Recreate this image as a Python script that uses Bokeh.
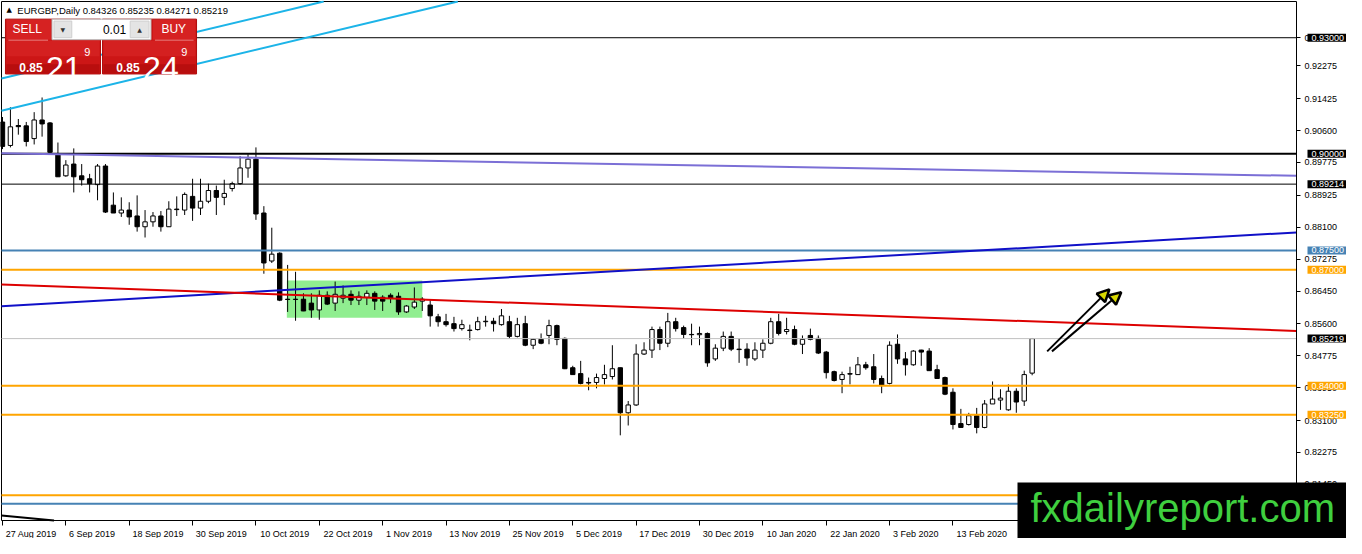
from bokeh.plotting import figure
from bokeh.models import (Range1d, FixedTicker, PrintfTickFormatter, Label, Arrow,
                          NormalHead, ColumnDataSource, LinearAxis)
from bokeh.core.properties import value
from bokeh.embed import file_html
from bokeh.resources import INLINE

# ---------------- data (EURGBP daily) ----------------
opens = [0.9082, 0.90214, 0.9073, 0.90721, 0.90392, 0.90873, 0.90797, 0.89986, 0.89429, 0.89733,
         0.89429, 0.89353, 0.89201, 0.89682, 0.88670, 0.88467, 0.88543, 0.88391, 0.88112, 0.88239,
         0.88391, 0.88112, 0.88568, 0.88543, 0.88897, 0.88594, 0.88771, 0.89049, 0.88872, 0.89100,
         0.89227, 0.89632, 0.89860, 0.88467, 0.87226, 0.87428, 0.86238, 0.86230, 0.86238, 0.86137,
         0.85960, 0.86340, 0.86137, 0.86264, 0.86365, 0.86213, 0.86289, 0.86390, 0.86289, 0.86340,
         0.86314, 0.85909, 0.86036, 0.86188, 0.86087, 0.85783, 0.85656, 0.85605, 0.85478, 0.85428,
         0.85453, 0.85656, 0.85668, 0.85580, 0.85656, 0.85276, 0.85605, 0.85048, 0.85200, 0.85301,
         0.85555, 0.85225, 0.84466, 0.84314, 0.84085, 0.84085, 0.84187, 0.84238, 0.84466, 0.83301,
         0.83503, 0.84820, 0.84922, 0.85453, 0.85099, 0.85656, 0.85504, 0.85327, 0.85320, 0.85352,
         0.84694, 0.84972, 0.85276, 0.84947, 0.84947, 0.84694, 0.84922, 0.85099, 0.85656, 0.85402,
         0.85453, 0.85073, 0.85301, 0.85225, 0.84871, 0.84364, 0.84162, 0.84314, 0.84288, 0.84542,
         0.84491, 0.84187, 0.84060, 0.85073, 0.84694, 0.84542, 0.84922, 0.84896, 0.84415, 0.84212,
         0.83832, 0.83022, 0.82997, 0.83225, 0.82921, 0.83529, 0.83630, 0.83377, 0.83858, 0.83605,
         0.84326]
highs = [0.9095, 0.91202, 0.90898, 0.90822, 0.91075, 0.91455, 0.9082, 0.90290, 0.89834, 0.90138,
         0.89733, 0.89480, 0.89733, 0.89733, 0.88999, 0.88872, 0.88745, 0.88923, 0.88543, 0.88492,
         0.88518, 0.88771, 0.88897, 0.88999, 0.89353, 0.89353, 0.89227, 0.89176, 0.89328, 0.89277,
         0.89936, 0.89986, 0.90164, 0.88644, 0.88087, 0.8745, 0.87125, 0.86947, 0.86390, 0.86390,
         0.86466, 0.86441, 0.86694, 0.86593, 0.86466, 0.86441, 0.86466, 0.86441, 0.86340, 0.86390,
         0.86415, 0.86087, 0.86542, 0.86289, 0.86213, 0.85859, 0.85859, 0.85782, 0.85707, 0.85580,
         0.85783, 0.85808, 0.85757, 0.85985, 0.85808, 0.85757, 0.85808, 0.85225, 0.85352, 0.85707,
         0.85580, 0.8525, 0.84516, 0.84643, 0.84212, 0.84314, 0.84542, 0.85048, 0.8447, 0.83605,
         0.85073, 0.85124, 0.85529, 0.85529, 0.85884, 0.85757, 0.85555, 0.85605, 0.85529, 0.85377,
         0.85073, 0.85402, 0.85402, 0.85225, 0.85099, 0.85124, 0.85200, 0.85757, 0.85859, 0.85757,
         0.85555, 0.85301, 0.85478, 0.85301, 0.8490, 0.8439, 0.84364, 0.84491, 0.84744, 0.84618,
         0.84820, 0.84263, 0.85149, 0.85327, 0.84871, 0.84922, 0.84930, 0.84972, 0.84542, 0.84237,
         0.83934, 0.83402, 0.83300, 0.83427, 0.83630, 0.84111, 0.83909, 0.84035, 0.83934, 0.84390,
         0.85235]
lows = [0.9012, 0.90164, 0.90493, 0.90189, 0.90240, 0.90442, 0.9001, 0.8940, 0.89404, 0.88999,
        0.89176, 0.88999, 0.88796, 0.88467, 0.88467, 0.88366, 0.88163, 0.87986, 0.87834, 0.88112,
        0.87986, 0.88112, 0.88391, 0.88416, 0.88264, 0.88416, 0.88720, 0.88416, 0.88670, 0.89024,
        0.8920, 0.89379, 0.88290, 0.86897, 0.87175, 0.86188, 0.85909, 0.85681, 0.8593, 0.85757,
        0.85707, 0.86087, 0.85934, 0.86137, 0.86087, 0.86087, 0.86087, 0.85960, 0.85934, 0.86137,
        0.85833, 0.85883, 0.85985, 0.85934, 0.85529, 0.85529, 0.85529, 0.85402, 0.85428, 0.85175,
        0.85428, 0.85529, 0.85402, 0.85555, 0.85225, 0.85250, 0.85023, 0.84947, 0.85073, 0.85073,
        0.85048, 0.8443, 0.84288, 0.84035, 0.83883, 0.83934, 0.84035, 0.84162, 0.82718, 0.82972,
        0.83478, 0.84795, 0.84719, 0.84922, 0.84998, 0.85402, 0.85225, 0.85048, 0.85048, 0.84491,
        0.84643, 0.84896, 0.84896, 0.84592, 0.84516, 0.84643, 0.84719, 0.85073, 0.85301, 0.85327,
        0.85048, 0.84820, 0.85175, 0.84820, 0.84187, 0.84111, 0.83807, 0.84035, 0.84288, 0.84415,
        0.84060, 0.83807, 0.84035, 0.84567, 0.84263, 0.84516, 0.84516, 0.84390, 0.84187, 0.83757,
        0.82870, 0.82921, 0.82972, 0.82769, 0.82900, 0.83529, 0.83377, 0.83352, 0.83301, 0.83478,
        0.84271]
closes = [0.9019, 0.90696, 0.9070, 0.90316, 0.90873, 0.90771, 0.90037, 0.89404, 0.89708, 0.89404,
          0.89328, 0.89227, 0.89682, 0.88492, 0.88467, 0.88543, 0.88366, 0.88112, 0.88239, 0.88391,
          0.88112, 0.88568, 0.88555, 0.88948, 0.88594, 0.88771, 0.89049, 0.88872, 0.88973, 0.89227,
          0.89632, 0.89860, 0.88442, 0.87175, 0.87403, 0.86213, 0.86230, 0.86238, 0.85934, 0.85960,
          0.86340, 0.86112, 0.86365, 0.86340, 0.86213, 0.86314, 0.86390, 0.86188, 0.86188, 0.86264,
          0.85909, 0.86061, 0.86162, 0.86238, 0.85808, 0.85656, 0.85580, 0.85478, 0.85580, 0.85440,
          0.85656, 0.85668, 0.85605, 0.85808, 0.85276, 0.85580, 0.85048, 0.85200, 0.85099, 0.85555,
          0.85200, 0.84440, 0.84288, 0.84060, 0.84070, 0.84212, 0.84288, 0.84440, 0.83301, 0.83503,
          0.84820, 0.84922, 0.85453, 0.85099, 0.85656, 0.85478, 0.85327, 0.85320, 0.85352, 0.84592,
          0.84972, 0.85276, 0.84947, 0.84935, 0.84719, 0.84922, 0.85099, 0.85656, 0.85352, 0.85453,
          0.85073, 0.85200, 0.85200, 0.84846, 0.84339, 0.84136, 0.84288, 0.84300, 0.84542, 0.84466,
          0.84162, 0.84010, 0.85048, 0.84694, 0.84542, 0.84896, 0.84871, 0.84390, 0.84187, 0.83782,
          0.82997, 0.82921, 0.83225, 0.82921, 0.83529, 0.83655, 0.83681, 0.83858, 0.83579, 0.84288,
          0.85219]

date_bars = [0, 8, 16, 24, 32, 40, 48, 56, 64, 72, 80, 88, 96, 104, 112, 120]
date_labels = ["27 Aug 2019", "6 Sep 2019", "18 Sep 2019", "30 Sep 2019", "10 Oct 2019",
               "22 Oct 2019", "1 Nov 2019", "13 Nov 2019", "25 Nov 2019", "5 Dec 2019",
               "17 Dec 2019", "30 Dec 2019", "10 Jan 2020", "22 Jan 2020", "3 Feb 2020",
               "13 Feb 2020"]
price_ticks = [0.93, 0.92275, 0.91425, 0.906, 0.89775, 0.88925, 0.881, 0.87275, 0.8645,
               0.856, 0.84775, 0.8395, 0.831, 0.82275, 0.8145]

# horizontal levels
black_thin_levels = [0.93, 0.89214]
black_thick_levels = [0.90]
orange_levels = [0.87, 0.84, 0.8325, 0.8117]
steel_levels = [0.875, 0.8095]
bid_price = 0.85219

# trend lines: two anchor points (bar, price) each
cyan1 = (0, 0.9195, 50, 0.9440)
cyan2 = (0, 0.9112, 60, 0.9406)
purple = (0, 0.9001, 163, 0.8943)
blue = (0, 0.8606, 163, 0.8796)
red = (0, 0.8662, 163, 0.8542)
black_tl = (0, 0.80642, 8, 0.80486)

# consolidation box
box_bars = [35.9, 53.0]
box_prices = [0.8576, 0.8672]

# arrows (bar, price) tail -> tip
arrow1 = (131.9, 0.84889, 139.75, 0.86492)
arrow2 = (132.5, 0.84889, 141.25, 0.86416)

# right-axis price tags
tags = [(0.93, "black"), (0.90, "black"), (0.89214, "black"), (0.875, "#4682b4"),
        (0.87, "#ffa500"), (0.85219, "black"), (0.84, "#ffa500"), (0.8325, "#ffa500")]

# ---------------- geometry ----------------
W, H = 1346, 538
CL, CR, CT, CB = 1, 1296, 1, 520          # chart area inside the canvas (px)
X0, X1 = -0.125, 163.375                  # chart extent in bars
Y0, Y1 = 0.805151, 0.939370               # chart extent in price
dx = (X1 - X0) / (CR - CL)
dy = (Y1 - Y0) / (CB - CT)
XS, YT = X0 - CL * dx, Y1 + CT * dy        # data value at canvas left / top
PXB = 8.0        # reference px per bar
PYU = 3948.7     # reference px per price unit


def rx(px):      # reference chart px -> bar
    return X0 + (px - 2) / PXB


def ry(py):      # reference chart px -> price
    return 0.93 - (py - 39) / PYU


def cx(px):      # canvas px -> bar
    return XS + px * dx


def cy(py):      # canvas px -> price
    return YT - py * dy


def clipped(line):
    xa, ya, xb, yb = line
    t0, t1 = -1e9, 1e9
    ddx, ddy = xb - xa, yb - ya
    for pv, qv in ((-ddx, xa - X0), (ddx, X1 - xa), (-ddy, ya - Y0), (ddy, Y1 - ya)):
        if pv == 0:
            continue
        t = qv / pv
        if pv < 0:
            t0 = max(t0, t)
        else:
            t1 = min(t1, t)
    return [xa + t0 * ddx, xa + t1 * ddx], [ya + t0 * ddy, ya + t1 * ddy]


FONT = "Liberation Sans"

p = figure(width=W, height=H,
           x_range=Range1d(XS, X1 + (W - CR) * dx),
           y_range=Range1d(Y0 - (H - CB) * dy, YT),
           x_axis_location=None, y_axis_location=None,
           output_backend="svg", toolbar_location=None,
           min_border=0, min_border_left=0, min_border_right=0,
           min_border_top=0, min_border_bottom=0,
           background_fill_color="white", border_fill_color="white",
           outline_line_color=None)
p.grid.visible = False

# bottom (date) axis fixed at the chart's lower edge
date_ticks = [b + round((3 + 2.35 * len(l)) / PXB * 16) / 16 for b, l in zip(date_bars, date_labels)]
xax = LinearAxis(fixed_location=Y0, bounds=(X0, X1),
                 ticker=FixedTicker(ticks=date_ticks, minor_ticks=date_bars))
xax.major_label_overrides = {t: l for t, l in zip(date_ticks, date_labels)}
xax.major_tick_line_color = None
xax.major_tick_out = 1
xax.major_tick_in = 0
xax.minor_tick_out = 5
xax.minor_tick_in = 0
xax.minor_tick_line_color = "black"
xax.major_label_standoff = 3
xax.axis_line_color = "black"
xax.major_label_text_font = FONT
xax.major_label_text_font_size = "9px"
xax.major_label_text_color = "black"
p.add_layout(xax, "below")

# right (price) axis fixed at the chart's right edge
yax = LinearAxis(fixed_location=X1, bounds=(Y0 - 30 * dy, Y1),
                 ticker=FixedTicker(ticks=price_ticks),
                 formatter=PrintfTickFormatter(format="%.5f"))
yax.major_tick_out = 4
yax.major_tick_in = 0
yax.minor_tick_line_color = None
yax.major_label_standoff = 4
yax.axis_line_color = "black"
yax.major_label_text_font = FONT
yax.major_label_text_font_size = "9px"
yax.major_label_text_color = "black"
p.add_layout(yax, "right")

# top and left chart borders
p.segment(x0=[X0, X0], y0=[Y0, Y1], x1=[X0, X1], y1=[Y1, Y1], line_color="black", line_width=1)

# consolidation box (background)
p.quad(left=[box_bars[0]], right=[box_bars[1]], bottom=[box_prices[0]], top=[box_prices[1]],
       fill_color="#90ee90", line_color=None)

# candles
n = len(opens)
xs = list(range(n))
tops = [max(o, c) for o, c in zip(opens, closes)]
bots = [min(o, c) for o, c in zip(opens, closes)]
fills = ["white" if c >= o else "black" for o, c in zip(opens, closes)]
src = ColumnDataSource(dict(x=xs, h=highs, l=lows, t=tops, b=bots, f=fills))
p.segment(x0="x", x1="x", y0="l", y1="h", source=src, line_color="black", line_width=1)
p.vbar(x="x", width=0.55, top="t", bottom="b", fill_color="f", line_color="black",
       line_width=1, source=src)


# horizontal levels
def hlines(levels, color, width):
    p.segment(x0=[X0] * len(levels), x1=[X1] * len(levels), y0=levels, y1=levels,
              line_color=color, line_width=width)


hlines(black_thin_levels, "black", 1)
hlines(black_thick_levels, "black", 2)
hlines(orange_levels, "#ffa500", 2)
hlines(steel_levels, "#4682b4", 2)
hlines([bid_price], "#c0c0c0", 1)

# trend lines
for ln, col in ((cyan1, "#1cb4e8"), (cyan2, "#1cb4e8"), (purple, "#7b6fd6"),
                (blue, "#1010c8"), (red, "#dd0000"), (black_tl, "black")):
    lx, ly = clipped(ln)
    p.line(lx, ly, line_color=col, line_width=2)

# arrows
for a in (arrow1, arrow2):
    p.add_layout(Arrow(end=NormalHead(size=12, fill_color="#d8d800", line_color="black",
                                      line_width=2.5),
                       x_start=a[0], y_start=a[1], x_end=a[2], y_end=a[3],
                       line_color="black", line_width=2))

# ---------------- one-click trading panel (decoration) ----------------
RED = "#cc1616"
p.quad(left=[rx(6), rx(104)], right=[rx(102), rx(199)], top=[ry(20), ry(20)],
       bottom=[ry(76), ry(76)], fill_color=RED, line_color="#b00c0c", line_width=1)
p.quad(left=[rx(7), rx(105)], right=[rx(101), rx(198)], top=[ry(42), ry(42)],
       bottom=[ry(58), ry(58)], fill_color="#d42020", line_color=None)
p.quad(left=[rx(7), rx(105)], right=[rx(101), rx(198)], top=[ry(66), ry(66)],
       bottom=[ry(75), ry(75)], fill_color="#b80e0e", line_color=None)
p.quad(left=[rx(7), rx(155)], right=[rx(52), rx(198)], top=[ry(21), ry(21)],
       bottom=[ry(41), ry(41)], fill_color="#d62222", line_color=None)
p.segment(x0=[rx(9), rx(157)], x1=[rx(49), rx(196)], y0=[ry(41.5), ry(41.5)],
          y1=[ry(41.5), ry(41.5)], line_color="#e98080", line_width=1)
# spinner
p.quad(left=[rx(53)], right=[rx(153)], top=[ry(20)], bottom=[ry(41)], fill_color="white",
       line_color="#b8b8b8", line_width=1)
p.quad(left=[rx(55), rx(132)], right=[rx(73), rx(151)], top=[ry(22), ry(22)],
       bottom=[ry(39), ry(39)], fill_color="#e4e4e4", line_color="#cfcfcf", line_width=1)
p.text(x=[rx(64), rx(141.5)], y=[ry(30.5), ry(30.5)], text=["▼", "▲"], text_font_size="6px",
       text_color="#333333", text_align="center", text_baseline="middle",
       text_font=value("DejaVu Sans"))
p.text(x=[rx(128)], y=[ry(30.5)], text=["0.01"], text_font_size="12px", text_color="black",
       text_align="right", text_baseline="middle", text_font=value(FONT))
p.text(x=[rx(28), rx(176)], y=[ry(30.5), ry(30.5)], text=["SELL", "BUY"],
       text_font_size="12px", text_color="white", text_align="center",
       text_baseline="middle", text_font=value(FONT))
p.text(x=[rx(20), rx(118)], y=[ry(69), ry(69)], text=["0.85", "0.85"], text_font_size="12px",
       text_font_style="bold", text_color="white", text_align="left",
       text_baseline="alphabetic", text_font=value(FONT))
p.text(x=[rx(47), rx(145)], y=[ry(70), ry(70)], text=["21", "24"], text_font_size="32px",
       text_color="white", text_align="left", text_baseline="alphabetic",
       text_font=value(FONT))
p.text(x=[rx(85.5), rx(183.5)], y=[ry(54), ry(54)], text=["9", "9"], text_font_size="11px",
       text_color="white", text_align="left", text_baseline="alphabetic",
       text_font=value(FONT))

# chart title
p.text(x=[rx(7)], y=[ry(11)], text=["▲"], text_font_size="7px", text_color="black",
       text_align="left", text_baseline="middle", text_font=value("DejaVu Sans"))
p.text(x=[rx(18)], y=[ry(11)], text=["EURGBP,Daily  0.84326 0.85235 0.84271 0.85219"],
       text_font_size="9.5px", text_color="black", text_align="left",
       text_baseline="middle", text_font=value(FONT))

# right-axis price tags
for price, col in tags:
    p.add_layout(Label(x=X1, y=price, x_offset=11, text="%.5f" % price,
                       text_font=FONT, text_font_size="9px", text_color="white",
                       text_align="left", text_baseline="middle",
                       background_fill_color=col, padding=(4, 1), level="overlay"))

# watermark (covers the corner of both axes)
p.quad(left=[cx(1017)], right=[cx(1346)], top=[cy(482)], bottom=[cy(538)],
       fill_color="black", line_color=None, level="overlay")
p.text(x=[cx(1030)], y=[cy(507)], text=["fxdailyreport.com"], text_font=value(FONT),
       text_font_size="40px", text_color="#3fcf3f", text_align="left",
       text_baseline="middle", level="overlay")

open("out.html", "w").write(file_html(p, INLINE))
